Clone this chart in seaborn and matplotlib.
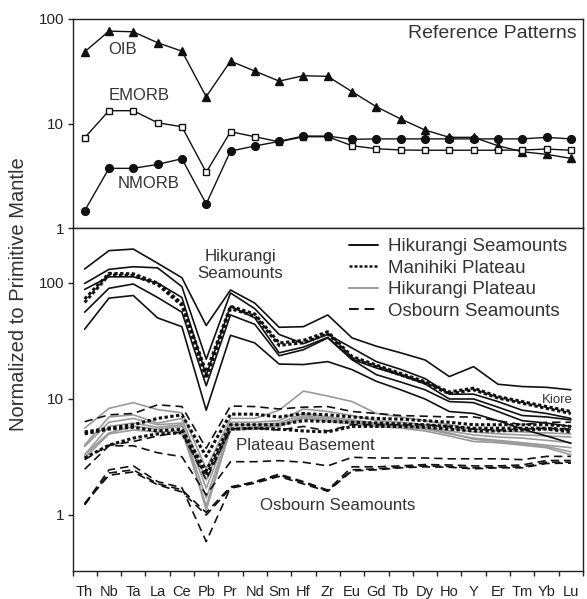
import matplotlib
matplotlib.use("Agg")
import matplotlib.pyplot as plt
import numpy as np
import pandas as pd
import seaborn as sns
from matplotlib.lines import Line2D
from matplotlib.ticker import FixedLocator, NullLocator, FixedFormatter, NullFormatter

# ---------------- data ----------------
elements = ["Th", "Nb", "Ta", "La", "Ce", "Pb", "Pr", "Nd", "Sm", "Hf", "Zr",
            "Eu", "Gd", "Tb", "Dy", "Ho", "Y", "Er", "Tm", "Yb", "Lu"]

# reference patterns (top panel)
oib = [48.6, 76.6, 75.5, 59.3, 49.3, 18.1, 39.6, 31.8, 25.5, 28.7, 28.3,
       20.2, 14.5, 11.1, 8.69, 7.4, 7.4, 6.15, 5.39, 5.09, 4.66]
emorb = [7.33, 13.3, 13.3, 10.2, 9.34, 3.43, 8.37, 7.5, 6.71, 7.5, 7.5,
         6.15, 5.76, 5.6, 5.57, 5.57, 5.57, 5.57, 5.6, 5.72, 5.57]
nmorb = [1.47, 3.74, 3.74, 4.08, 4.62, 1.71, 5.47, 6.11, 6.77, 7.62, 7.6,
         7.08, 7.15, 7.15, 7.15, 7.15, 7.15, 7.15, 7.15, 7.4, 7.15]

# Hikurangi Seamounts (solid black)
hikurangi_seamounts = [
    [132, 190, 196, 148, 111, 43, 87, 67, 41.5, 42, 53, 33.6, 28.5, 25, 21.7, 15.6, 19, 13.4, 12.8, 12.6, 12],
    [99, 131, 138, 135, 93, 22, 82, 60, 36, 30, 36, 27.5, 21, 18, 15, 11, 11, 9.5, 8, 7.5, 6.8],
    [88, 113, 113, 100, 75, 16, 63, 50, 25, 28, 34, 22, 18.5, 16, 13.5, 10, 10, 8.5, 7.2, 7, 6.6],
    [56, 90, 98, 75, 56, 13, 53, 44, 23.6, 26.6, 33.6, 21.8, 16.2, 14, 12, 9.5, 9.3, 7.8, 6.5, 6.2, 5.8],
    [40, 74, 78, 50, 42, 8, 35.4, 30.4, 20, 19.8, 21, 17.9, 14.2, 12, 10, 7.8, 7.5, 6.5, 5.5, 4.8, 4.15],
]

# Manihiki Plateau (thick dotted)
manihiki_plateau = [
    [72.8, 121, 120, 100, 66.5, 17, 63, 54, 30.4, 32, 38, 23.2, 19.6, 16.6, 14.1, 11.5, 12.4, 10.5, 9.5, 8.6, 7.8],
    [68, 117, 116, 97, 64, 15, 60, 52, 29, 30.5, 36.5, 22.4, 19, 16.1, 13.7, 11.1, 12, 10.2, 9.2, 8.3, 7.5],
    [5.2, 5.6, 6.0, 6.8, 7.3, 3.2, 7.4, 7.4, 7.0, 7.5, 7.3, 7.0, 6.8, 6.7, 6.5, 6.3, 6.0, 6.0, 6.0, 6.0, 5.8],
    [5.0, 5.5, 5.7, 5.3, 5.5, 2.4, 6.0, 6.0, 6.0, 6.5, 6.4, 6.3, 6.2, 6.1, 6.0, 5.8, 5.6, 5.6, 5.6, 5.6, 5.4],
    [3.1, 4.0, 4.6, 5.0, 5.1, 2.2, 5.5, 5.6, 5.5, 5.3, 5.2, 5.8, 5.8, 5.8, 5.7, 5.5, 5.3, 5.3, 5.4, 5.5, 5.2],
]

# Hikurangi Plateau (grey solid)
hikurangi_plateau = [
    [5.6, 8.3, 9.3, 8.1, 7.6, 2.5, 6.8, 6.8, 8.0, 11.7, 10.6, 9.5, 7.5, 7.0, 6.5, 6.0, 5.5, 5.3, 5.2, 5.1, 5.0],
    [4.0, 7.0, 7.3, 6.2, 6.8, 2.0, 6.3, 6.3, 6.5, 8.2, 7.8, 7.2, 6.5, 6.3, 6.0, 5.6, 5.2, 5.0, 4.9, 4.8, 4.7],
    [3.9, 6.3, 6.8, 6.0, 6.2, 1.7, 6.0, 6.0, 6.2, 7.5, 7.0, 6.6, 6.2, 6.0, 5.7, 5.3, 4.9, 4.7, 4.6, 4.4, 4.2],
    [3.3, 5.1, 5.8, 5.5, 5.8, 1.4, 5.7, 5.7, 6.0, 7.0, 6.6, 6.3, 6.0, 5.8, 5.5, 5.0, 4.6, 4.4, 4.2, 4.0, 3.8],
    [3.1, 5.0, 5.4, 5.2, 5.3, 1.2, 5.4, 5.5, 5.8, 6.8, 6.4, 6.1, 5.8, 5.6, 5.3, 4.8, 4.3, 4.2, 4.0, 3.8, 3.3],
    [3.3, 5.8, 6.2, 5.7, 6.0, 1.1, 5.6, 5.6, 5.9, 7.2, 6.8, 6.4, 6.1, 5.9, 5.6, 5.1, 4.5, 4.3, 4.1, 3.9, 3.5],
]

# Osbourn Seamounts (dashed)
osbourn_seamounts = [
    [6.37, 7.3, 7.5, 8.9, 8.6, 3.76, 8.7, 8.6, 8.2, 8.5, 8.6, 7.8, 7.5, 7.2, 7.1, 7.0, 7.0, 6.5, 6.0, 6.3, 6.3],
    [3.0, 4.0, 4.3, 4.8, 5.2, 2.0, 5.5, 5.6, 5.4, 5.8, 5.3, 6.0, 6.0, 6.0, 6.0, 5.8, 5.5, 5.4, 5.5, 5.6, 5.5],
    [2.48, 3.95, 3.95, 3.44, 3.18, 1.49, 2.88, 2.88, 2.94, 2.85, 2.65, 3.14, 3.1, 3.1, 3.1, 3.05, 3.05, 3.05, 3.0, 3.2, 3.2],
    [1.24, 2.45, 2.65, 1.94, 1.72, 0.59, 1.72, 1.94, 2.25, 1.94, 1.64, 2.6, 2.6, 2.65, 2.72, 2.7, 2.65, 2.65, 2.7, 2.95, 2.95],
    [1.22, 2.3, 2.45, 1.86, 1.65, 1.05, 1.75, 1.92, 2.2, 1.9, 1.62, 2.45, 2.5, 2.58, 2.65, 2.62, 2.55, 2.58, 2.6, 2.85, 2.85],
    [1.26, 2.2, 2.35, 1.82, 1.58, 1.0, 1.7, 1.88, 2.15, 1.85, 1.6, 2.4, 2.45, 2.55, 2.6, 2.58, 2.5, 2.55, 2.55, 2.78, 2.8],
]

# ---------------- style ----------------
sns.set_style("ticks")
plt.rcParams["font.family"] = ["Liberation Sans", "DejaVu Sans"]
TXT = "#333333"
BLK = "#111111"
GRY = "#9a9a9a"

W, H = 587, 599
fig = plt.figure(figsize=(W / 100, H / 100), dpi=100)
xl, xr = 72.5, 583.0
ax_top = fig.add_axes([xl / W, 1 - 228.3 / H, (xr - xl) / W, (228.3 - 19) / H])
ax_bot = fig.add_axes([xl / W, 1 - 571 / H, (xr - xl) / W, (571 - 228.3) / H])

pos = np.arange(len(elements))


def long_frame(group):
    rows = []
    for k, vals in enumerate(group):
        for i, v in enumerate(vals):
            rows.append({"sample": k, "pos": pos[i], "value": v})
    return pd.DataFrame(rows)


# ---------------- top panel ----------------
ref_specs = [
    (oib, "^", 6.2, BLK),
    (emorb, "s", 5.0, "white"),
    (nmorb, "o", 5.6, BLK),
]
for vals, mk, ms, fc in ref_specs:
    sns.lineplot(x=pos, y=vals, ax=ax_top, color=BLK, lw=1.0, marker=mk,
                 markersize=ms, markerfacecolor=fc, markeredgecolor=BLK,
                 markeredgewidth=1.0, estimator=None, sort=False)

# ---------------- bottom panel ----------------
groups = [
    (hikurangi_plateau, dict(color=GRY, lw=1.2, linestyle="-")),
    (osbourn_seamounts, dict(color=BLK, lw=1.2, linestyle=(0, (5, 3)))),
    (manihiki_plateau, dict(color=BLK, lw=2.2, linestyle=(0, (1.1, 0.8)))),
    (hikurangi_seamounts, dict(color=BLK, lw=1.2, linestyle="-")),
]
for grp, kw in groups:
    df = long_frame(grp)
    sns.lineplot(data=df, x="pos", y="value", units="sample", estimator=None,
                 ax=ax_bot, sort=False, legend=False, **kw)

# ---------------- axes formatting ----------------
for ax in (ax_top, ax_bot):
    ax.set_yscale("log")
    ax.set_xlim(-0.5, len(elements) - 0.5)
    ax.set_xlabel("")
    ax.set_ylabel("")
    for sp in ax.spines.values():
        sp.set_linewidth(1.0)
        sp.set_color("#222222")
    ax.yaxis.set_major_locator(FixedLocator([1, 10, 100]))
    ax.yaxis.set_major_formatter(FixedFormatter(["1", "10", "100"]))
    ax.yaxis.set_minor_locator(NullLocator())
    ax.tick_params(axis="y", which="major", length=3.5, width=1.0,
                   direction="out", pad=2.5, labelsize=11, colors="#222222")

ax_top.set_ylim(1, 100)
ax_bot.set_ylim(0.329, 296)

ax_top.xaxis.set_major_locator(NullLocator())
ax_top.xaxis.set_minor_locator(NullLocator())

ax_bot.xaxis.set_major_locator(FixedLocator(np.arange(-0.5, len(elements))))
ax_bot.xaxis.set_major_formatter(NullFormatter())
ax_bot.xaxis.set_minor_locator(FixedLocator(pos))
ax_bot.xaxis.set_minor_formatter(FixedFormatter(elements))
ax_bot.tick_params(axis="x", which="major", length=3.5, width=1.0, direction="out")
ax_bot.tick_params(axis="x", which="minor", length=0, pad=10, labelsize=10.5,
                   colors="#222222")

# ---------------- legend ----------------
handles = [
    Line2D([], [], color=BLK, lw=1.4, linestyle="-"),
    Line2D([], [], color=BLK, lw=1.8, linestyle=(0, (1.2, 0.8))),
    Line2D([], [], color=GRY, lw=1.4, linestyle="-"),
    Line2D([], [], color=BLK, lw=1.4, linestyle=(0, (5, 3))),
]
labels = ["Hikurangi Seamounts", "Manihiki Plateau", "Hikurangi Plateau",
          "Osbourn Seamounts"]
leg = ax_bot.legend(handles, labels, loc="upper left",
                    bbox_to_anchor=((349 - xl) / (xr - xl), (571 - 238) / (571 - 228.3)),
                    frameon=False, fontsize=13.5, handlelength=1.55,
                    handletextpad=0.55, labelspacing=0.24, borderpad=0,
                    borderaxespad=0)
for t in leg.get_texts():
    t.set_color(TXT)


# ---------------- annotations ----------------
def ftext(x, y, s, size, ha="center", **kw):
    fig.text(x / W, 1 - y / H, s, fontsize=size, ha=ha, va="center",
             color=TXT, **kw)


ftext(577, 33, "Reference Patterns", 14, ha="right")
ftext(123, 50, "OIB", 12)
ftext(139, 95, "EMORB", 12)
ftext(149, 183, "NMORB", 12)
ftext(240, 265, "Hikurangi\nSeamounts", 12.2, linespacing=1.15)
ftext(573, 400, "Kiore", 9.5, ha="right")
ftext(305, 445, "Plateau Basement", 12.2)
ftext(338, 506, "Osbourn Seamounts", 12.2)
ftext(18.5, 294, "Normalized to Primitive Mantle", 14.5, rotation=90)

fig.savefig("out.png", dpi=100)
